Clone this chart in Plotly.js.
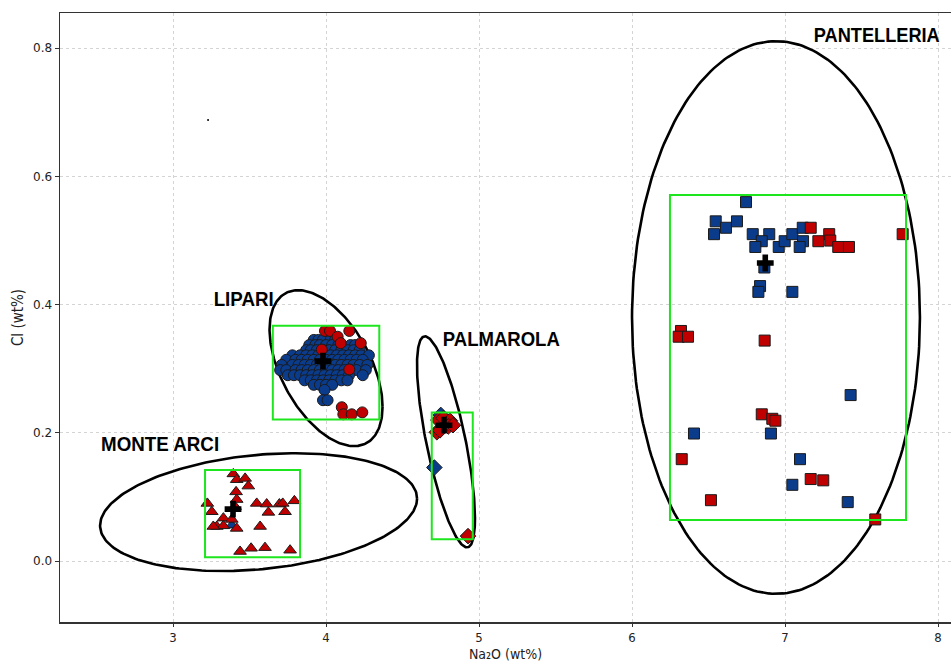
<!DOCTYPE html>
<html>
<head>
<meta charset="utf-8">
<script src="https://cdn.plot.ly/plotly-3.0.1.min.js"></script>
<style>html,body{margin:0;padding:0;background:#fff;}#chart{width:951px;height:662px;}</style>
</head>
<body>
<div id="chart"></div>
<script>
// ---------- DATA ----------
// Lipari (circles) - blue cluster listed row by row
const lipariBlueRowY = [0.345, 0.337, 0.329, 0.321, 0.314, 0.306, 0.298, 0.290, 0.282, 0.275, 0.267, 0.251];
const lipariBlueRowX = [
  [3.92, 3.95, 3.98, 4.03, 4.06],
  [3.89, 3.93, 3.96, 4.00, 4.04, 4.08, 4.16, 4.19],
  [3.87, 3.90, 3.94, 3.98, 4.02, 4.06, 4.10, 4.14, 4.18, 4.22],
  [3.78, 3.83, 3.87, 3.91, 3.95, 3.99, 4.03, 4.07, 4.11, 4.15, 4.19, 4.23, 4.28],
  [3.74, 3.80, 3.84, 3.88, 3.92, 3.96, 4.00, 4.04, 4.08, 4.12, 4.16, 4.20, 4.24],
  [3.71, 3.78, 3.82, 3.86, 3.90, 3.94, 3.98, 4.02, 4.06, 4.10, 4.14, 4.18, 4.22, 4.27],
  [3.70, 3.74, 3.80, 3.84, 3.88, 3.92, 3.96, 4.00, 4.04, 4.08, 4.12, 4.16, 4.20, 4.26],
  [3.75, 3.79, 3.83, 3.87, 3.91, 3.95, 3.99, 4.03, 4.07, 4.11, 4.15, 4.24],
  [3.86, 3.90, 3.94, 3.98, 4.02, 4.06, 4.10, 4.14],
  [3.92, 3.96, 4.00, 4.04],
  [3.99],
  [3.98, 4.01]
];
const lipariRedX = [3.993, 4.026, 4.076, 4.152, 4.096, 4.227, 3.972, 4.152, 4.103, 4.113, 4.168, 4.237];
const lipariRedY = [0.359, 0.359, 0.350, 0.359, 0.340, 0.340, 0.330, 0.299, 0.240, 0.229, 0.229, 0.232];

// Palmarola (diamonds)
const palmBlueX = [4.750, 4.708];
const palmBlueY = [0.228, 0.146];
const palmRedX = [4.734, 4.767, 4.810, 4.799, 4.724, 4.745, 4.830, 4.928];
const palmRedY = [0.220, 0.223, 0.219, 0.210, 0.201, 0.204, 0.212, 0.039];

// Monte Arci (triangles)
const arciBlueX = [3.384];
const arciBlueY = [0.056];
const arciRedX = [3.394, 3.416, 3.471, 3.492, 3.412, 3.416, 3.224, 3.253, 3.405, 3.547, 3.612, 3.695, 3.717, 3.793,
                  3.623, 3.732, 3.329, 3.384, 3.286, 3.329, 3.263, 3.416, 3.569, 3.438, 3.510, 3.601, 3.765];
const arciRedY = [0.136, 0.127, 0.129, 0.117, 0.108, 0.096, 0.090, 0.077, 0.085, 0.090, 0.089, 0.089, 0.090, 0.094,
                  0.076, 0.077, 0.067, 0.065, 0.054, 0.055, 0.054, 0.051, 0.054, 0.015, 0.020, 0.021, 0.017];

// Pantelleria (squares)
const pantBlueX = [6.745, 6.547, 6.614, 6.686, 6.536, 6.789, 6.897, 6.848, 6.806, 6.959, 6.998, 7.048, 7.116, 7.118, 7.096,
                   6.865, 6.837, 6.826, 7.048, 7.429, 6.405, 6.908, 7.098, 7.048, 7.410];
const pantBlueY = [0.560, 0.530, 0.520, 0.530, 0.510, 0.510, 0.510, 0.499, 0.490, 0.490, 0.499, 0.510, 0.520, 0.499, 0.490,
                   0.458, 0.429, 0.420, 0.420, 0.259, 0.199, 0.199, 0.159, 0.119, 0.092];
const pantRedX = [7.168, 7.218, 7.289, 7.296, 7.348, 7.418, 7.769, 6.320, 6.305, 6.366, 6.867, 6.848, 6.917, 6.937,
                  6.325, 7.168, 7.250, 6.516, 7.590];
const pantRedY = [0.520, 0.499, 0.510, 0.500, 0.490, 0.490, 0.510, 0.359, 0.350, 0.350, 0.344, 0.229, 0.222, 0.219,
                  0.159, 0.128, 0.126, 0.095, 0.065];

// Open (hollow) markers
const openBlueCircleX = [3.654, 4.329, 4.364, 4.048, 4.397, 4.458, 4.516];
const openBlueCircleY = [0.299, 0.329, 0.134, 0.124, 0.095, 0.095, 0.095];
const openRedCircleX = [4.353];
const openRedCircleY = [0.046];
const openRedTriX = [4.292, 4.556];
const openRedTriY = [0.169, 0.033];
const openBlueTriX = [5.152];
const openBlueTriY = [0.126];

// Group means (crosses)
const meanX = [3.980, 4.771, 3.392, 6.871];
const meanY = [0.312, 0.212, 0.081, 0.465];

// Stray dot
const dotX = [3.229];
const dotY = [0.688];

// Group ellipses: centre and conjugate semi-diameters (A = [ax, ay], B = [0, by])
const ellipseCx = [4.000, 4.784, 3.559, 6.941];
const ellipseCy = [0.301, 0.186, 0.0764, 0.380];
const ellipseAx = [0.3693, 0.1895, 1.036, 0.941];
const ellipseAy = [-0.0603, -0.1192, 0.0211, 0.0];
const ellipseBy = [0.1057, 0.1136, 0.0895, 0.431];

// Green boxes [x0, x1, y0, y1]
const boxX0 = [3.652, 4.691, 3.209, 6.248];
const boxX1 = [4.348, 4.959, 3.830, 7.791];
const boxY0 = [0.221, 0.034, 0.006, 0.064];
const boxY1 = [0.367, 0.232, 0.142, 0.571];

// Labels
const groupLabels = ['LIPARI', 'PALMAROLA', 'MONTE ARCI', 'PANTELLERIA'];
const xTicks = [3, 4, 5, 6, 7, 8];
const yTicks = [0.0, 0.2, 0.4, 0.6, 0.8];

// ---------- BUILD ----------
const BLUE = '#0b3c8c', RED = '#c00000', EDGE = '#1a1a1a';
const lipBX = [], lipBY = [];
lipariBlueRowY.forEach((yy, i) => lipariBlueRowX[i].forEach(xx => { lipBX.push(xx); lipBY.push(yy); }));

const traces = [];
for (let k = 0; k < ellipseCx.length; k++) {
  const ex = [], ey = [];
  for (let i = 0; i <= 240; i++) {
    const t = 2 * Math.PI * i / 240;
    ex.push(ellipseCx[k] + ellipseAx[k] * Math.cos(t));
    ey.push(ellipseCy[k] + ellipseAy[k] * Math.cos(t) + ellipseBy[k] * Math.sin(t));
  }
  traces.push({x: ex, y: ey, mode: 'lines', line: {color: '#000', width: 2.6}, hoverinfo: 'skip'});
}
function filled(x, y, symbol, color, size) {
  return {x, y, mode: 'markers', type: 'scatter',
    marker: {symbol, color, size, line: {color: EDGE, width: 1}}};
}
function hollow(x, y, symbol, color, size) {
  return {x, y, mode: 'markers', type: 'scatter',
    marker: {symbol, color: 'rgba(0,0,0,0)', size, line: {color, width: 1.6}}};
}
traces.push(filled(lipBX, lipBY, 'circle', BLUE, 11));
traces.push(filled(lipariRedX, lipariRedY, 'circle', RED, 11));
traces.push(filled(palmBlueX, palmBlueY, 'diamond', BLUE, 12));
traces.push(filled(palmRedX, palmRedY, 'diamond', RED, 12));
traces.push(filled(arciBlueX, arciBlueY, 'triangle-up', BLUE, 11));
traces.push(filled(arciRedX, arciRedY, 'triangle-up', RED, 11));
traces.push(filled(pantBlueX, pantBlueY, 'square', BLUE, 11));
traces.push(filled(pantRedX, pantRedY, 'square', RED, 11));
traces.push(hollow(openBlueCircleX, openBlueCircleY, 'circle-open', '#1a4f9c', 10));
traces.push(hollow(openRedCircleX, openRedCircleY, 'circle-open', '#c0392b', 10));
traces.push(hollow(openRedTriX, openRedTriY, 'triangle-up-open', '#c0392b', 10));
traces.push(hollow(openBlueTriX, openBlueTriY, 'triangle-up-open', '#1a4f9c', 10));
traces.push({x: meanX, y: meanY, mode: 'markers', marker: {symbol: 'cross', color: '#000', size: 14, line: {width: 0}}});
traces.push({x: dotX, y: dotY, mode: 'markers', marker: {symbol: 'circle', color: '#000', size: 2}});

const shapes = boxX0.map((_, i) => ({type: 'rect', xref: 'x', yref: 'y', x0: boxX0[i], x1: boxX1[i], y0: boxY0[i], y1: boxY1[i],
  line: {color: '#1ee61e', width: 2}, fillcolor: 'rgba(0,0,0,0)', layer: 'above'}));

const labelPos = [[3.458, 0.410], [5.144, 0.348], [2.915, 0.184], [7.600, 0.822]];
const labelWidth = [60, 117, 118, 126];
const annotations = groupLabels.map((txt, i) => ({x: labelPos[i][0], y: labelPos[i][1], xref: 'x', yref: 'y',
  text: '<b>' + txt + '</b>', showarrow: false,
  font: {family: '"Liberation Sans", Arial, sans-serif', size: 21, color: '#000'}}));

const layout = {
  width: 951, height: 662,
  margin: {l: 60, r: 0, t: 13, b: 40},
  paper_bgcolor: '#fff', plot_bgcolor: '#fff',
  showlegend: false,
  font: {family: '"DejaVu Sans", sans-serif', size: 12, color: '#222'},
  xaxis: {range: [2.261, 8.085], tickvals: xTicks, ticktext: xTicks.map(String),
    showgrid: true, gridcolor: '#d4d4d4', griddash: 'dot', gridwidth: 1,
    zeroline: false, showline: true, linecolor: '#333', linewidth: 1.5, mirror: true,
    ticks: 'outside', ticklen: 3, tickcolor: '#333',
    tickfont: {family: '"DejaVu Sans Condensed", "DejaVu Sans", sans-serif', size: 13, color: '#222'},
    title: {text: 'Na\u2082O (wt%)', standoff: 6, font: {family: '"DejaVu Sans Condensed", "DejaVu Sans", sans-serif', size: 14, color: '#222'}}},
  yaxis: {range: [-0.095, 0.855], tickvals: yTicks, ticktext: yTicks.map(v => v.toFixed(1)),
    showgrid: true, gridcolor: '#d4d4d4', griddash: 'dot', gridwidth: 1,
    zeroline: false, showline: true, linecolor: '#333', linewidth: 1.5, mirror: false,
    ticks: 'outside', ticklen: 4, tickcolor: '#333',
    tickfont: {family: '"DejaVu Sans", sans-serif', size: 12, color: '#222'},
    title: {text: 'Cl (wt%)', standoff: 6, font: {family: '"DejaVu Sans Condensed", "DejaVu Sans", sans-serif', size: 15, color: '#222'}}},
  shapes, annotations
};
Plotly.newPlot('chart', traces, layout, {displayModeBar: false, staticPlot: true}).then(gd => {
  // condense the bold group labels to the narrow face used in the reference
  const texts = gd.querySelectorAll('.annotation-text-g text');
  texts.forEach((t, i) => {
    if (labelWidth[i]) {
      t.setAttribute('textLength', labelWidth[i]);
      t.setAttribute('lengthAdjust', 'spacingAndGlyphs');
    }
  });
});
</script>
</body>
</html>
